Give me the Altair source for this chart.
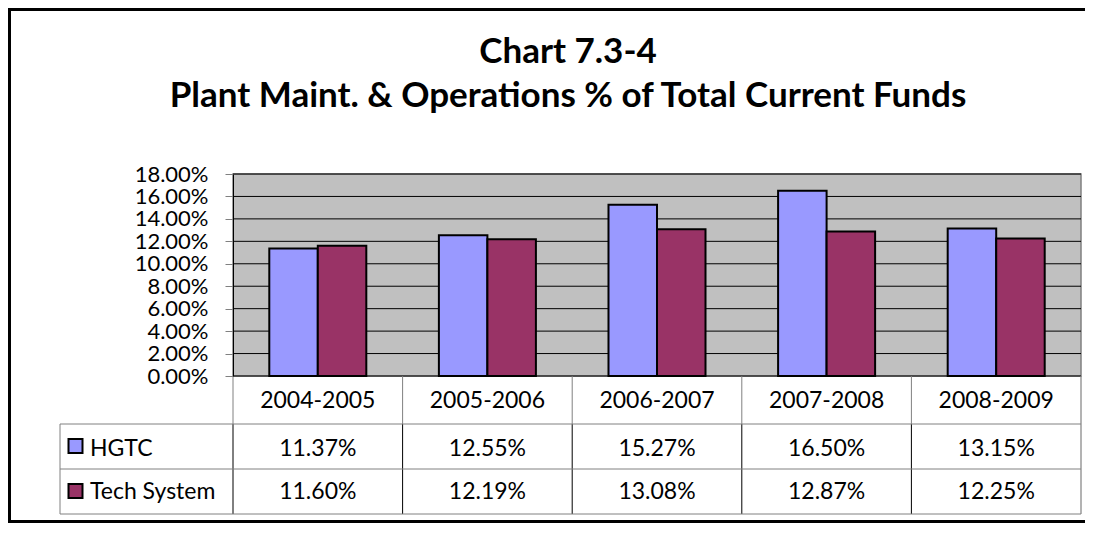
import altair as alt
import pandas as pd

# ---- data ----
years = ["2004-2005", "2005-2006", "2006-2007", "2007-2008", "2008-2009"]
hgtc = [0.1137, 0.1255, 0.1527, 0.1650, 0.1315]
tech = [0.1160, 0.1219, 0.1308, 0.1287, 0.1225]
series = ["HGTC", "Tech System"]
colors = ["#9999FF", "#993366"]
y_ticks = [0.0, 0.02, 0.04, 0.06, 0.08, 0.10, 0.12, 0.14, 0.16, 0.18]
title_lines = ["Chart 7.3-4", "Plant Maint. & Operations % of Total Current Funds"]

long_df = pd.DataFrame(
    [{"year": y, "series": series[0], "value": v} for y, v in zip(years, hgtc)]
    + [{"year": y, "series": series[1], "value": v} for y, v in zip(years, tech)]
)
years_df = pd.DataFrame({"year": years})
series_df = pd.DataFrame({"series": series})
ticks_df = pd.DataFrame({"t": y_ticks})
one = pd.DataFrame({"k": [0]})

# ---- layout (view-relative pixels) ----
W = 848          # plot width
PH = 202         # plot height
H = 340          # plot + data table
HDR = 250        # header row bottom
ROW1 = 295       # first data row bottom
LEFT = -173      # legend column left edge
FONT = "Lato"
FS = 23
AXIS_FS = 22
GRAY = "#808080"
PAD_IN = 0.428
STEP = W / len(years)
BOUND_SHIFT = -(PAD_IN / 2) * STEP   # pixel shift from band start to category boundary

yscale = alt.Scale(domain=[0, 0.18], range=[PH, 0], nice=False, zero=True)
xscale = alt.Scale(domain=years, paddingInner=PAD_IN, paddingOuter=PAD_IN / 2)
yaxis = alt.Axis(
    values=y_ticks, format=".2%", title=None, grid=False,
    labelFont=FONT, labelFontSize=AXIS_FS, labelColor="black", labelOverlap=False,
    labelPadding=17, tickSize=8, tickColor=GRAY, domainColor="black",
    domainWidth=1, zindex=1,
)

# outer chart frame (left, top, bottom edges; right edge lies outside the picture)
FX0, FY0, FY1 = -223.5, -164.5, 347.5
FX1 = W + 4
frame = [
    alt.Chart(one).mark_rule(color="black", strokeWidth=3).encode(
        x=alt.value(FX0 - 1.5), x2=alt.value(FX1), y=alt.value(FY0)
    ),
    alt.Chart(one).mark_rule(color="black", strokeWidth=3).encode(
        x=alt.value(FX0 - 1.5), x2=alt.value(FX1), y=alt.value(FY1)
    ),
    alt.Chart(one).mark_rule(color="black", strokeWidth=3).encode(
        x=alt.value(FX0), y=alt.value(FY0 - 1.5), y2=alt.value(FY1 + 1.5)
    ),
]

plot_bg = alt.Chart(one).mark_rect(fill="#C0C0C0", stroke=GRAY, strokeWidth=1.5).encode(
    x=alt.value(0), x2=alt.value(W), y=alt.value(0), y2=alt.value(PH)
)

grid = alt.Chart(ticks_df).mark_rule(color="black", strokeWidth=1).encode(
    x=alt.value(0), x2=alt.value(W), y=alt.Y("t:Q", scale=yscale, axis=yaxis)
)

bars = alt.Chart(long_df).mark_bar(stroke="black", strokeWidth=2).encode(
    x=alt.X("year:N", scale=xscale, sort=years, axis=None),
    xOffset=alt.XOffset("series:N", sort=series, scale=alt.Scale(paddingInner=0, paddingOuter=0)),
    y=alt.Y("value:Q", scale=yscale, axis=yaxis),
    fill=alt.Fill("series:N", scale=alt.Scale(domain=series, range=colors), legend=None),
)

# table vertical rules at category boundaries
vr_hdr = alt.Chart(years_df).mark_rule(color=GRAY, strokeWidth=1, xOffset=BOUND_SHIFT).encode(
    x=alt.X("year:N", sort=years, bandPosition=0, axis=None),
    y=alt.value(PH), y2=alt.value(HDR),
)
vr_rows = alt.Chart(years_df).mark_rule(color="black", strokeWidth=1, xOffset=BOUND_SHIFT).encode(
    x=alt.X("year:N", sort=years, bandPosition=0, axis=None),
    y=alt.value(HDR), y2=alt.value(H),
)
vr_right = alt.Chart(one).mark_rule(color=GRAY, strokeWidth=1.2).encode(
    x=alt.value(W), y=alt.value(PH), y2=alt.value(H)
)
vr_left = alt.Chart(one).mark_rule(color=GRAY, strokeWidth=1).encode(
    x=alt.value(LEFT), y=alt.value(HDR), y2=alt.value(H)
)
hr = [
    alt.Chart(one).mark_rule(color=GRAY, strokeWidth=1).encode(
        x=alt.value(LEFT), x2=alt.value(W), y=alt.value(yy)
    )
    for yy in (HDR, ROW1, H)
]

header = alt.Chart(years_df).mark_text(font=FONT, fontSize=FS, color="black", baseline="alphabetic").encode(
    x=alt.X("year:N", sort=years, axis=None),
    y=alt.value(234),
    text="year:N",
)

row_base = {series[0]: 282, series[1]: 325}
row_mid = {series[0]: 272, series[1]: 317}
value_rows = []
legend_parts = []
for s in series:
    value_rows.append(
        alt.Chart(long_df).transform_filter(alt.datum.series == s)
        .mark_text(font=FONT, fontSize=FS, color="black", baseline="alphabetic")
        .encode(
            x=alt.X("year:N", sort=years, axis=None),
            y=alt.value(row_base[s]),
            text=alt.Text("value:Q", format=".2%"),
        )
    )
    legend_parts.append(
        alt.Chart(series_df).transform_filter(alt.datum.series == s)
        .mark_square(size=196, opacity=1, stroke="black", strokeWidth=2)
        .encode(
            x=alt.value(-157.5), y=alt.value(row_mid[s]),
            fill=alt.Fill("series:N", scale=alt.Scale(domain=series, range=colors), legend=None),
        )
    )
    legend_parts.append(
        alt.Chart(series_df).transform_filter(alt.datum.series == s)
        .mark_text(font=FONT, fontSize=FS, color="black", baseline="alphabetic", align="left")
        .encode(x=alt.value(-143), y=alt.value(row_base[s]), text="series:N")
    )

titles = [
    alt.Chart(one).mark_text(font=FONT, fontSize=35, fontWeight="bold", color="black",
                             baseline="alphabetic", align="center")
    .encode(x=alt.value(335), y=alt.value(yy), text=alt.value(t))
    for t, yy in zip(title_lines, (-111, -67))
]

chart = alt.layer(
    *frame, plot_bg, grid, bars, vr_hdr, vr_rows, vr_right, vr_left, *hr,
    header, *value_rows, *legend_parts, *titles,
).properties(
    width=W, height=H,
    autosize=alt.AutoSizeParams(type="none"),
    padding={"left": 225, "top": 166, "right": 4, "bottom": 9},
    background="white",
).configure_view(stroke=None)

chart.save("out.html", embed_options={"renderer": "svg", "actions": False})
